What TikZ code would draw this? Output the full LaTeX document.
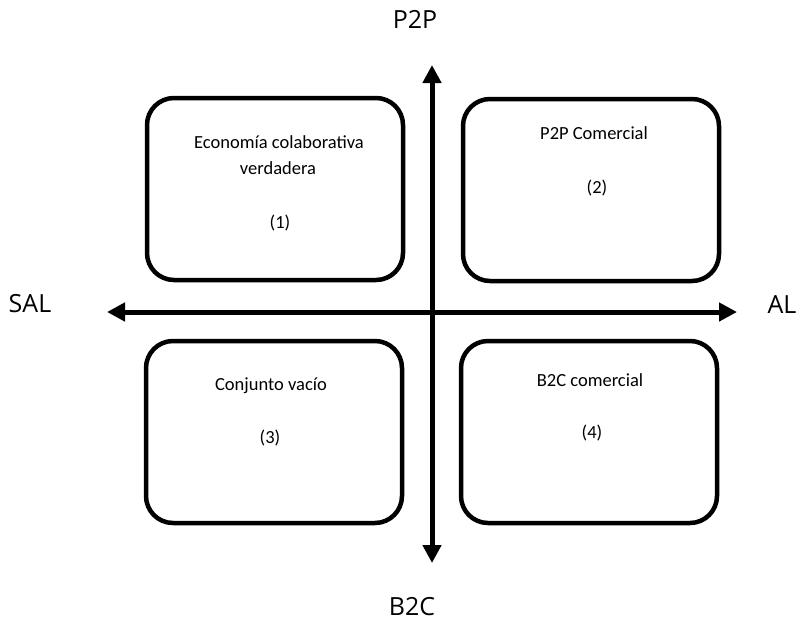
\documentclass[tikz,border=0pt]{standalone}
\usepackage{fontspec}
\setmainfont{Carlito}
\newfontfamily\axisfont{Open Sans}
\usetikzlibrary{arrows.meta}
\begin{document}
\begin{tikzpicture}[x=1pt,y=-1pt,
  quadbox/.style={draw, line width=4.5pt, rounded corners=27pt,
    minimum width=256pt, minimum height=182pt, inner sep=0pt},
  boxtext/.style={font=\fontsize{18.5}{22}\selectfont, align=center, inner sep=0pt},
  axislabel/.style={font=\axisfont\fontsize{25}{29}\selectfont, inner sep=0pt},
  axisline/.style={line width=5pt, {Triangle[length=18pt,width=18pt]}-{Triangle[length=18pt,width=18pt]}}]
\useasboundingbox (0,0) rectangle (799,621);

% quadrant boxes
\node[quadbox] (q1) at (275,189) {};
\node[quadbox] (q2) at (591,190) {};
\node[quadbox] (q3) at (274,432) {};
\node[quadbox] (q4) at (589,432) {};

% box texts
\node[boxtext] (t1a) at (279,142) {Economía colaborativa};
\node[boxtext] (t1b) at (278,168) {verdadera};
\node[boxtext] (t1c) at (280,223) {(1)};
\node[boxtext] (t2a) at (594,133) {P2P Comercial};
\node[boxtext] (t2b) at (597,188) {(2)};
\node[boxtext] (t3a) at (271,386) {Conjunto vacío};
\node[boxtext] (t3b) at (270,438) {(3)};
\node[boxtext] (t4a) at (590,380) {B2C comercial};
\node[boxtext] (t4b) at (592,433) {(4)};

% axes
\coordinate (west) at (107,312);
\coordinate (east) at (737,312);
\coordinate (north) at (432,65);
\coordinate (south) at (432,563);
\draw[axisline] (west) -- (east);
\draw[axisline] (south) -- (north);

% axis labels
\node[axislabel] (lp2p) at (415,19) {P2P};
\node[axislabel] (lb2c) at (412,607) {B2C};
\node[axislabel] (lsal) at (30,304) {SAL};
\node[axislabel] (lal) at (782,305) {AL};
\end{tikzpicture}
\end{document}
